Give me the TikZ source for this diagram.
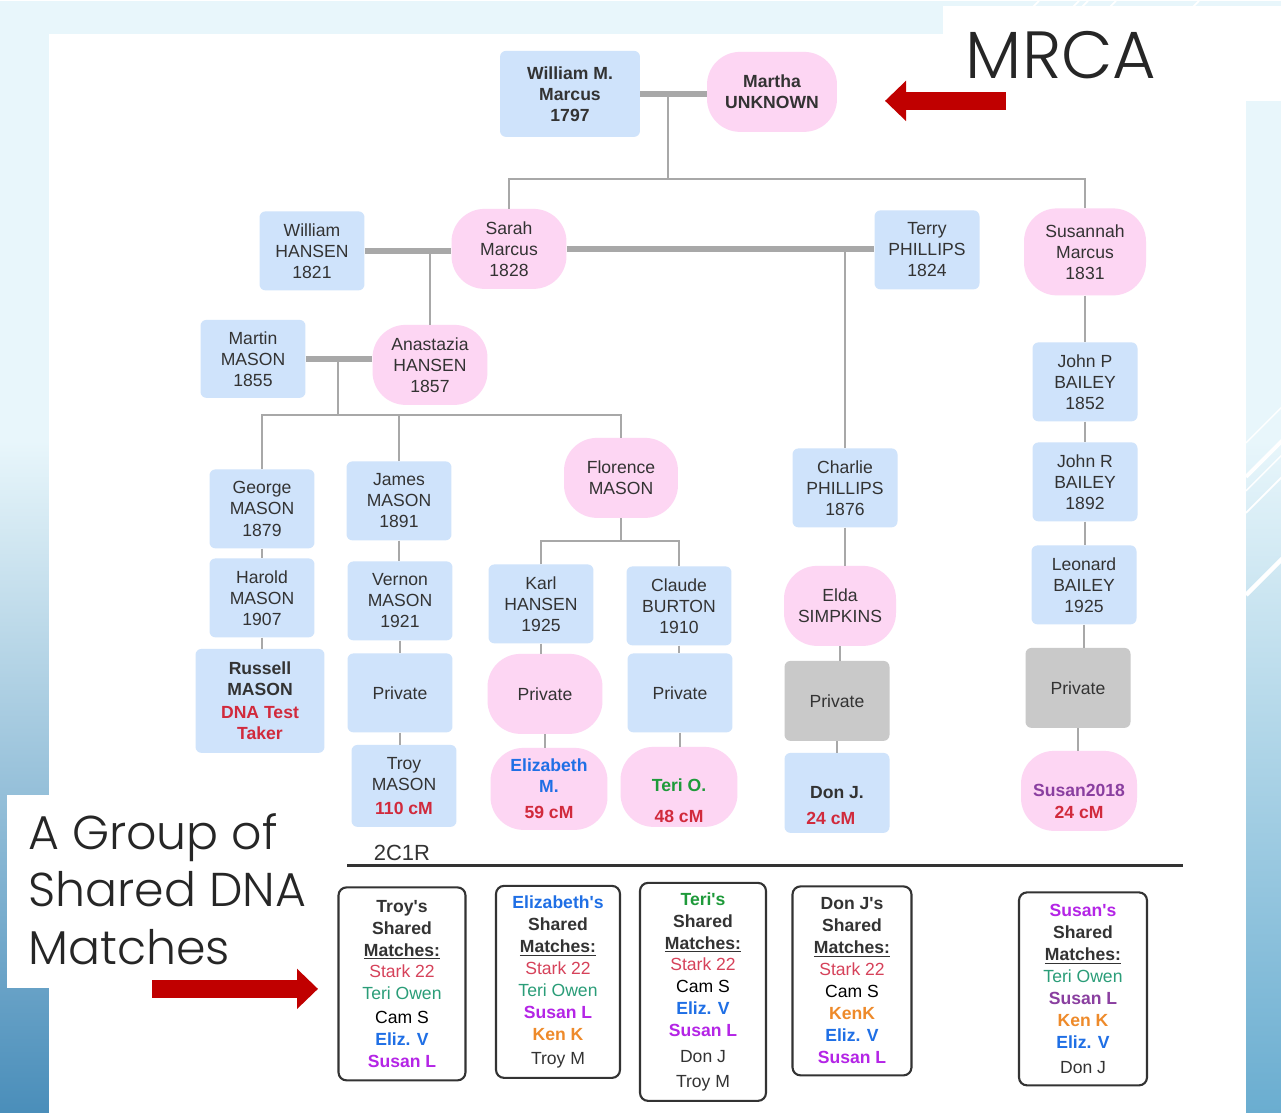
\documentclass[tikz,border=0pt]{standalone}
\usepackage{fontspec}
\setmainfont{Liberation Sans}
\newfontfamily\slidefont{Poppins Light}
\usetikzlibrary{arrows.meta, positioning, calc}

\definecolor{boxblue}{HTML}{CFE3FB}
\definecolor{boxpink}{HTML}{FDD6F3}
\definecolor{boxgray}{HTML}{C9C9C9}
\definecolor{linegray}{HTML}{A8A8A8}
\definecolor{ink}{HTML}{333333}
\definecolor{cmred}{HTML}{D12A3C}
\definecolor{starkred}{HTML}{D6425A}
\definecolor{elizblue}{HTML}{1F6FE5}
\definecolor{teriteal}{HTML}{2A9D78}
\definecolor{terigreen}{HTML}{1E9A3A}
\definecolor{susanpurple}{HTML}{B425E6}
\definecolor{susandark}{HTML}{8A3FA0}
\definecolor{kenorange}{HTML}{EE8A2A}
\definecolor{arrowred}{HTML}{C00000}
\definecolor{skyblue}{HTML}{E8F6FB}
\definecolor{deepblue}{HTML}{4A8EBA}
\definecolor{rightblue}{HTML}{6AADD0}

\newcommand*{\treesize}{\fontsize{10}{12}\selectfont}
\newcommand*{\dnacm}[1]{\textcolor{cmred}{\textbf{#1}}}
\newcommand*{\apos}{\textquotesingle}

\begin{document}
\begin{tikzpicture}[
        x=0.02cm, y=-0.02cm,
        man/.style={fill=boxblue, rounded corners=0.12cm, minimum width=2.1cm, minimum height=1.58cm,
          align=center, text=ink, inner sep=1pt, font=\treesize},
        woman/.style={man, fill=boxpink, rounded corners=0.66cm, minimum width=2.3cm, minimum height=1.6cm},
        hidden/.style={man, fill=boxgray, minimum height=1.6cm},
        strong/.style={font=\treesize\bfseries},
        kin/.style={draw=linegray, line width=1.2pt},
        spouse/.style={draw=linegray, line width=3.2pt},
        matches/.style={draw=ink, line width=1.2pt, fill=white, rounded corners=0.16cm, align=center,
          text=ink, inner sep=1pt, font=\fontsize{10}{12.5}\selectfont},
        bigarrow/.style={arrowred, line width=0.36cm, -{Triangle[length=0.42cm, width=0.78cm]}},
        ]

        % slide background
        \fill[skyblue] (0,0) rectangle (1281,1112);
        \shade[top color=skyblue, bottom color=deepblue] (0,440) rectangle (1281,1112);
        \shade[top color=skyblue, bottom color=rightblue] (1246,440) rectangle (1281,1112);
        \begin{scope}
          \clip (1246,100) rectangle (1281,1112);
          \foreach \y/\w in {442/0.8pt, 476/2.2pt, 490/0.8pt, 512/1pt, 594/2.5pt}
            \draw[white, line width=\w] (1246,\y) -- ++(40,-40);
        \end{scope}
        \foreach \x in {1033, 1073, 1082, 1110, 1193}
          \draw[white, line width=1pt] (\x,6) -- ++(6,-6);
        \fill[white] (49,33) rectangle (1246,1112);
        \fill[white] (943,5) rectangle (1281,100);
        \fill[white] (7,794) rectangle (120,987);

        % MRCA couple
        \node[man, strong, minimum width=2.8cm, minimum height=1.72cm] (william) at (570,93) {William M.\\Marcus\\1797};
        \node[woman, strong, minimum width=2.6cm] (martha) at (772,91) {Martha\\UNKNOWN};
        \coordinate (gen1) at (668,178);
        \draw[spouse] (william.east) -- (william.east -| martha.west);
        \draw[kin] (william.east -| gen1) -- (gen1);

        % their children and spouses
        \node[man] (whansen) at (312,250) {William\\HANSEN\\1821};
        \node[woman] (sarah) at (509,248) {Sarah\\Marcus\\1828};
        \node[man] (terry) at (927,249) {Terry\\PHILLIPS\\1824};
        \node[woman, minimum width=2.44cm, minimum height=1.74cm] (susannah) at (1085,251) {Susannah\\Marcus\\1831};
        \draw[kin] (sarah.north) |- (gen1) -| (susannah.north);
        \draw[spouse] (whansen.east) -- (whansen.east -| sarah.west);
        \draw[spouse] (sarah.east) -- (sarah.east -| terry.west);

        % Hansen branch
        \node[man, minimum height=1.56cm] (martin) at (253,358) {Martin\\MASON\\1855};
        \node[woman] (anastazia) at (430,364) {Anastazia\\HANSEN\\1857};
        \draw[kin] (anastazia.north) -- (anastazia.north |- whansen.east);
        \draw[spouse] (martin.east) -- (martin.east -| anastazia.west);
        \coordinate (gen3) at (338,414);
        \draw[kin] (gen3 |- martin.east) -- (gen3);

        \node[man] (george) at (262,508) {George\\MASON\\1879};
        \node[man] (harold) at (262,597) {Harold\\MASON\\1907};
        \node[man, minimum width=2.58cm, minimum height=2.08cm] (russell) at (260,700)
          {\textbf{Russell}\\\textbf{MASON}\\[1pt]\textcolor{cmred}{\textbf{DNA Test}}\\\textcolor{cmred}{\textbf{Taker}}};

        \node[man] (james) at (399,500) {James\\MASON\\1891};
        \node[man] (vernon) at (400,600) {Vernon\\MASON\\1921};
        \node[man] (private1) at (400,692) {Private};
        \node[man, minimum height=1.64cm] (troy) at (404,785) {Troy\\MASON\\[2pt]\dnacm{110 cM}};

        \node[woman, minimum width=2.28cm] (florence) at (621,477) {Florence\\MASON};
        \coordinate (gen4) at (621,540);
        \node[man] (karl) at (541,603) {Karl\\HANSEN\\1925};
        \node[man] (claude) at (679,605) {Claude\\BURTON\\1910};
        \node[woman] (private2) at (545,693) {Private};
        \node[man] (private3) at (680,692) {Private};
        \node[woman, minimum width=2.34cm, minimum height=1.64cm] (elizabeth) at (549,788)
          {\textcolor{elizblue}{\textbf{Elizabeth}}\\\textcolor{elizblue}{\textbf{M.}}\\[3pt]\dnacm{59 cM}};
        \node[woman, minimum width=2.34cm] (teri) at (679,786)
          {\mbox{}\\[11pt]\textcolor{terigreen}{\textbf{Teri O.}}\\[6pt]\dnacm{48 cM}};

        \draw[kin] (george.north) |- (gen3) -| (florence.north);
        \draw[kin] (james.north) -- (james.north |- gen3);
        \draw[kin] (florence) -- (gen4);
        \draw[kin] (karl.north) |- (gen4) -| (claude.north);

        % Phillips branch
        \node[man] (charlie) at (845,487) {Charlie\\PHILLIPS\\1876};
        \node[woman, minimum width=2.24cm] (elda) at (840,605) {Elda\\SIMPKINS};
        \node[hidden] (private4) at (837,700) {Private};
        \node[man, minimum height=1.6cm] (donj) at (837,792) {\mbox{}\\[9pt]\textbf{Don J.}\\[3pt]\dnacm{24 cM}\hspace*{0.25cm}};
        \draw[kin] (charlie.north) -- (charlie.north |- sarah.east);

        % Bailey branch
        \node[man] (johnp) at (1085,381) {John P\\BAILEY\\1852};
        \node[man] (johnr) at (1085,481) {John R\\BAILEY\\1892};
        \node[man] (leonard) at (1084,584) {Leonard\\BAILEY\\1925};
        \node[hidden] (private5) at (1078,687) {Private};
        \node[woman, minimum width=2.32cm] (susan) at (1079,790)
          {\mbox{}\\[7pt]\textcolor{susandark}{\textbf{Susan2018}}\\[1pt]\dnacm{24 cM}};

        \foreach \a/\b in {george/harold, harold/russell, james/vernon, vernon/private1, private1/troy,
                           karl/private2, private2/elizabeth, claude/private3, private3/teri,
                           charlie/elda, elda/private4, private4/donj,
                           susannah/johnp, johnp/johnr, johnr/leonard, leonard/private5, private5/susan}
          \draw[kin] (\a.south) -- (\a.south |- \b.north);

        % second cousins once removed
        \node[text=ink, font=\fontsize{12.5}{14}\selectfont] (cousins) at (402,852) {2C1R};
        \coordinate (ruleL) at (347,865);
        \coordinate (ruleR) at (1183,865);
        \draw[draw=ink, line width=1.8pt] (ruleL) -- (ruleR);

        % shared match lists
        \node[matches, minimum width=2.54cm, minimum height=3.86cm] (troylist) at (402,983)
          {\textbf{Troy\apos s}\\\textbf{Shared}\\\textbf{\underline{Matches:}}\\\textcolor{starkred}{Stark 22}\\
           \textcolor{teriteal}{Teri Owen}\\[1pt]\textcolor{black}{Cam S}\\\textcolor{elizblue}{\textbf{Eliz. V}}\\
           \textcolor{susanpurple}{\textbf{Susan L}}};
        \node[matches, minimum width=2.48cm, minimum height=3.84cm] (elizlist) at (558,981)
          {\textcolor{elizblue}{\textbf{Elizabeth\apos s}}\\\textbf{Shared}\\\textbf{\underline{Matches:}}\\
           \textcolor{starkred}{Stark 22}\\\textcolor{teriteal}{Teri Owen}\\\textcolor{susanpurple}{\textbf{Susan L}}\\
           \textcolor{kenorange}{\textbf{Ken K}}\\[1pt]Troy M};
        \node[matches, minimum width=2.52cm, minimum height=4.36cm] (terilist) at (703,991)
          {\textcolor{terigreen}{\textbf{Teri\apos s}}\\\textbf{Shared}\\\textbf{\underline{Matches:}}\\
           \textcolor{starkred}{Stark 22}\\\textcolor{black}{Cam S}\\\textcolor{elizblue}{\textbf{Eliz. V}}\\
           \textcolor{susanpurple}{\textbf{Susan L}}\\[2pt]Don J\\[2pt]Troy M};
        \node[matches, minimum width=2.38cm, minimum height=3.78cm] (donlist) at (852,980)
          {\textbf{Don J\apos s}\\\textbf{Shared}\\\textbf{\underline{Matches:}}\\\textcolor{starkred}{Stark 22}\\
           \textcolor{black}{Cam S}\\\textcolor{kenorange}{\textbf{KenK}}\\\textcolor{elizblue}{\textbf{Eliz. V}}\\
           \textcolor{susanpurple}{\textbf{Susan L}}};
        \node[matches, minimum width=2.56cm, minimum height=3.86cm] (susanlist) at (1083,988)
          {\textcolor{susanpurple}{\textbf{Susan\apos s}}\\\textbf{Shared}\\\textbf{\underline{Matches:}}\\
           \textcolor{teriteal}{Teri Owen}\\\textcolor{susandark}{\textbf{Susan L}}\\\textcolor{kenorange}{\textbf{Ken K}}\\
           \textcolor{elizblue}{\textbf{Eliz. V}}\\[2pt]Don J};

        % slide captions and pointers
        \node[text=black!85, font=\slidefont\fontsize{38}{40}\selectfont] (mrca) at (1061,54) {MRCA};
        \node[text=black!85, font=\slidefont\fontsize{27}{33}\selectfont, align=left, anchor=north west] (group) at (22,806)
          {A Group of\\Shared DNA\\Matches};
        \coordinate (mrcatail) at (1006,100);
        \coordinate (mrcatip) at (885,100);
        \draw[bigarrow] (mrcatail) -- (mrcatip);
        \coordinate (grouptail) at (152,988);
        \coordinate (grouptip) at (318,988);
        \draw[bigarrow] (grouptail) -- (grouptip);
      \end{tikzpicture}
\end{document}
